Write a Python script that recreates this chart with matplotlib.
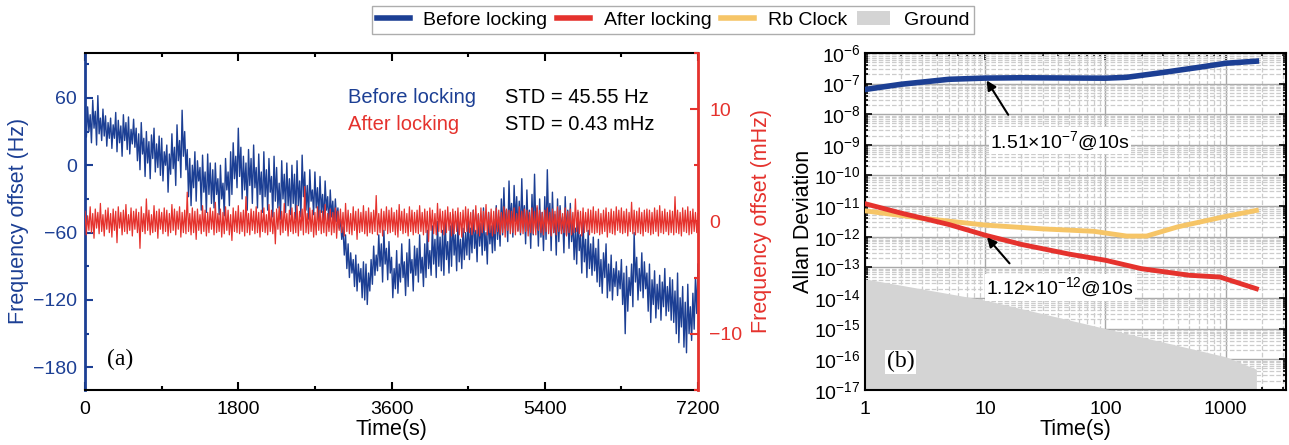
import numpy as np
import matplotlib.pyplot as plt
from matplotlib.ticker import MultipleLocator, LogLocator, NullFormatter
from matplotlib.patches import Patch
from matplotlib.lines import Line2D

plt.rcParams['font.family'] = ['Liberation Sans', 'DejaVu Sans']
plt.rcParams['font.size'] = 14
plt.rcParams['mathtext.fontset'] = 'custom'
plt.rcParams['mathtext.rm'] = 'Liberation Sans'

# ---- panel (a): frequency offset vs time, one sample every 15 s ----
dt = 15
blue_hz = [
    40, 25, 52, 30, 45, 20, 58, 33, 48, 18, 62, 28, 42, 22, 50, 26, 44, 17, 38, 24,
    42, 15, 36, 24, 47, 12, 40, 20, 35, 8, 45, 22, 38, 14, 43, 10, 32, 19, 41, 16,
    33, 4, 28, -4, 38, 10, 24, -10, 30, 2, 21, -12, 27, 6, 33, -6, 19, -2, 26, -9,
    24, -14, 12, 0, 18, -24, 10, -8, 28, -3, 16, -18, 36, 4, 22, -11, 49, 8, 30, -4,
    14, -28, 6, -36, 0, -20, 12, -32, 4, -14, -2, -40, 9, -24, -6, -42, 10, -26, 2, -34,
    -4, -38, 2, -26, -12, -44, 0, -30, -16, -45, 6, -22, -6, -36, 12, -26, 20, -12, 8, -20,
    33, -10, 16, -30, 8, -22, 2, -40, 14, -18, 6, -34, 18, -20, -2, -38, 10, -26, -6, -42,
    12, -28, -4, -40, 6, -24, -10, -46, 8, -32, -2, -38, -16, -48, 4, -30, -8, -42, 2, -36,
    -12, -44, 0, -34, -8, -48, 4, -36, -14, -46, 9, -28, -6, -40, -18, -48, -4, -32, -22, -44,
    -6, -38, -20, -48, -10, -42, -26, -52, -14, -40, -28, -55, -22, -46, -32, -54, -30, -50, -38, -56,
    -48, -66, -55, -80, -62, -92, -70, -100, -78, -96, -84, -108, -80, -112, -88, -104, -92, -118, -86, -120,
    -88, -124, -96, -112, -84, -106, -72, -98, -80, -94, -62, -90, -70, -104, -58, -88, -74, -102, -68, -96,
    -82, -118, -92, -110, -76, -114, -88, -104, -70, -100, -86, -116, -78, -108, -66, -96, -84, -112, -72, -98,
    -74, -104, -62, -96, -82, -108, -70, -100, -58, -92, -76, -98, -54, -88, -66, -100, -50, -90, -64, -94,
    -58, -98, -48, -84, -68, -96, -54, -90, -44, -80, -62, -94, -50, -86, -66, -92, -56, -84, -60, -80,
    -46, -84, -56, -78, -40, -74, -58, -86, -44, -72, -52, -80, -38, -76, -60, -88, -42, -70, -54, -78,
    -48, -76, -36, -66, -46, -72, -30, -62, -20, -56, -40, -68, -14, -52, -34, -64, -18, -50, -28, -58,
    -32, -62, -12, -54, -36, -70, -22, -58, -40, -74, -26, -62, -8, -56, -38, -72, -30, -64, -42, -76,
    -28, -66, -4, -52, -34, -76, -24, -60, -44, -80, -30, -68, -36, -58, -46, -78, -28, -62, -40, -74,
    -34, -68, -48, -84, -56, -88, -42, -76, -62, -96, -50, -86, -66, -100, -58, -92, -70, -98, -64, -94,
    -74, -104, -66, -108, -84, -114, -78, -100, -70, -118, -88, -112, -80, -120, -92, -108, -86, -116, -94, -110,
    -84, -124, -96, -150, -90, -130, -100, -116, -88, -126, -60, -104, -82, -120, -92, -112, -78, -118, -86, -110,
    -96, -130, -88, -140, -102, -124, -94, -136, -106, -128, -98, -138, -104, -126, -92, -134, -108, -130, -100, -138,
    -102, -140, -112, -150, -96, -158, -118, -144, -108, -162, -122, -167, -106, -150, -126, -156, -114, -146, -100, -132,
    -88,
]
red_mhz = [
    0.9, -1.2, 0.5, -0.8, 1.3, -1.0, 0.7, -1.5, 1.1, -0.6, 0.8, -1.1, 1.6, -0.9, 0.6, -1.3, 1.0, -0.7, 1.2, -1.0,
    0.7, -1.4, 1.1, -0.8, 0.9, -1.9, 1.3, -0.6, 0.8, -1.2, 1.0, -0.9, 1.5, -1.1, 0.6, -0.8, 1.2, -1.3, 0.9, -0.7,
    1.1, -1.0, 0.8, -2.4, 1.3, -0.9, 0.7, -1.1, 2.0, -0.8, 1.0, -1.2, 0.6, -1.0, 1.4, -0.9, 0.9, -1.5, 1.1, -0.7,
    0.8, -1.1, 1.2, -0.9, 1.0, -1.3, 0.7, -1.0, 1.5, -0.8, 1.1, -1.2, 0.9, -0.7, 1.3, -1.4, 0.8, -1.0, 1.0, -1.1,
    2.6, -0.9, 0.7, -1.2, 1.2, -1.0, 0.9, -1.6, 1.1, -0.8, 0.6, -1.1, 1.4, -0.9, 1.0, -1.3, 0.8, -1.0, 1.2, -0.7,
    0.9, -1.2, 1.7, -1.0, 0.7, -0.9, 1.1, -1.4, 0.8, -1.1, 1.3, -0.8, 1.0, -1.2, 0.6, -1.7, 1.2, -0.9, 0.9, -1.0,
    1.4, -1.1, 0.8, -0.9, 1.0, -1.3, 2.2, -1.0, 0.7, -1.2, 1.1, -0.8, 0.9, -1.1, 1.3, -1.0, 0.8, -1.4, 1.0, -0.9,
    1.2, -1.0, 0.6, -1.2, 1.5, -0.9, 1.0, -1.1, 0.8, -2.0, 1.1, -0.7, 1.3, -1.2, 0.9, -1.0, 1.6, -0.8, 0.7, -1.3,
    1.0, -0.9, 1.2, -1.1, 0.8, -1.0, 1.4, -1.3, 0.9, -0.8, 1.1, -1.2, 3.1, -1.0, 0.7, -1.1, 1.2, -0.9, 1.0, -1.4,
    0.8, -1.2, 1.3, -0.8, 1.0, -1.1, 0.9, -1.0, 1.5, -1.3, 0.7, -0.9, 1.1, -1.2, 0.8, -1.0, 1.2, -1.5, 0.9, -0.8,
    1.1, -1.0, 0.8, -1.3, 1.6, -0.9, 1.0, -1.1, 0.7, -1.2, 1.3, -0.8, 0.9, -1.6, 1.1, -1.0, 0.8, -0.9, 1.4, -1.1,
    0.9, -1.3, 1.2, -1.0, 0.8, -1.1, 1.0, -0.9, 2.3, -1.2, 0.7, -1.0, 1.1, -1.3, 0.9, -0.8, 1.3, -1.1, 1.0, -1.0,
    1.2, -0.9, 0.8, -1.2, 1.0, -1.4, 1.5, -0.8, 0.9, -1.1, 1.1, -1.0, 0.7, -1.3, 1.3, -0.9, 1.0, -1.2, 0.8, -1.0,
    1.0, -1.1, 1.4, -0.9, 0.8, -1.2, 1.1, -1.0, 0.9, -1.8, 1.2, -0.8, 1.0, -1.1, 0.7, -1.2, 1.6, -0.9, 1.1, -1.0,
    0.9, -1.2, 1.0, -1.0, 1.3, -0.8, 0.8, -1.3, 1.1, -1.1, 0.9, -0.9, 1.2, -1.2, 0.8, -1.4, 1.0, -1.0, 1.3, -0.9,
    1.1, -1.0, 0.8, -1.2, 1.0, -0.9, 1.4, -1.1, 0.7, -1.3, 1.2, -1.0, 0.9, -0.8, 1.5, -1.2, 0.8, -1.0, 1.1, -1.3,
    0.9, -1.1, 1.2, -0.9, 1.0, -1.2, 0.8, -1.0, 1.3, -1.4, 1.1, -0.8, 1.0, -1.1, 0.9, -1.0, 1.2, -1.2, 0.7, -0.9,
    1.3, -1.0, 0.9, -1.1, 1.1, -0.9, 1.0, -1.3, 0.8, -1.0, 1.2, -1.1, 0.9, -1.2, 1.4, -0.8, 1.0, -1.0, 0.8, -1.2,
    1.0, -0.9, 1.2, -1.1, 0.8, -1.3, 1.1, -1.0, 0.9, -1.2, 1.3, -0.9, 1.0, -1.1, 0.7, -1.0, 1.2, -1.3, 0.9, -1.0,
    1.1, -1.2, 0.8, -1.0, 2.0, -0.9, 1.0, -1.1, 0.9, -1.3, 1.2, -1.0, 0.8, -0.9, 1.1, -1.2, 1.0, -1.0, 1.3, -1.1,
    0.9, -1.0, 1.1, -1.2, 0.7, -1.1, 1.0, -0.9, 1.2, -1.4, 0.8, -1.0, 1.1, -1.1, 0.9, -1.2, 1.3, -0.8, 1.0, -1.0,
    1.2, -1.1, 0.9, -1.0, 1.1, -1.3, 0.8, -0.9, 1.7, -1.1, 1.0, -1.2, 0.9, -1.0, 1.2, -1.1, 0.8, -1.3, 1.0, -0.9,
    1.1, -1.0, 1.0, -1.2, 0.8, -1.1, 1.2, -0.9, 1.0, -1.3, 1.4, -1.0, 0.9, -1.1, 1.1, -0.9, 0.8, -1.2, 1.0, -1.0,
    0.9, -1.2, 2.2, -1.0, 1.0, -1.1, 0.8, -1.3, 1.2, -0.9, 1.0, -1.0, 1.3, -1.2, 0.9, -1.1, 1.1, -0.9, 0.8, -1.0,
    0.7,
]
t_blue = np.arange(len(blue_hz)) * dt
t_red = np.arange(len(red_mhz)) * dt

# ---- panel (b): Allan deviation ----
tau_before = [1, 2, 5, 10, 20, 50, 100, 150, 300, 600, 1000, 1800]
adev_before = [6.4e-8, 9.5e-8, 1.38e-7, 1.51e-7, 1.55e-7, 1.52e-7, 1.5e-7,
               1.6e-7, 2.3e-7, 3.4e-7, 4.6e-7, 5.4e-7]
tau_after = [1, 2, 5, 10, 20, 50, 100, 200, 500, 900, 1800]
adev_after = [1.2e-11, 5.9e-12, 2.5e-12, 1.12e-12, 5.6e-13, 2.7e-13, 1.7e-13,
              9e-14, 5.5e-14, 4.8e-14, 2.0e-14]
tau_rb = [1, 3, 10, 30, 80, 150, 220, 400, 1000, 1800]
adev_rb = [7e-12, 4e-12, 2.4e-12, 1.8e-12, 1.5e-12, 1.05e-12, 1.05e-12,
           2.1e-12, 4.6e-12, 7.2e-12]
tau_ground = [1, 10, 100, 1000, 1800]
adev_ground = [4.2e-14, 8.5e-15, 1.0e-15, 1.2e-16, 4.7e-17]

c_blue = '#1c3f94'
c_red = '#e5322d'
c_rb = '#f6c567'
c_gnd = '#d4d4d4'
lab_fs = 15.5
txt_fs = 14.5

fig = plt.figure(figsize=(12.89, 4.45), dpi=100)

# ---------- (a) ----------
ax1 = fig.add_axes([0.066, 0.124, 0.4755, 0.757])
ax1.plot(t_blue, blue_hz, color=c_blue, lw=1.0)
ax1.set_xlim(0, 7200)
ax1.set_ylim(-200, 100)
ax1.xaxis.set_major_locator(MultipleLocator(1800))
ax1.xaxis.set_minor_locator(MultipleLocator(900))
ax1.yaxis.set_major_locator(MultipleLocator(60))
ax1.yaxis.set_minor_locator(MultipleLocator(30))
ax1.set_xlabel('Time(s)', fontsize=lab_fs, labelpad=1)
ax1.set_ylabel('Frequency offset (Hz)', color=c_blue, fontsize=lab_fs, labelpad=3)
ax1.tick_params(axis='y', colors=c_blue, direction='in', length=6, width=1.5, pad=6)
ax1.tick_params(axis='y', which='minor', colors=c_blue, direction='in', length=3, width=1.5)
ax1.tick_params(axis='x', which='both', direction='in', top=True, width=1.5)
ax1.tick_params(axis='x', which='major', length=6, pad=8)
ax1.tick_params(axis='x', which='minor', length=3)
for s in ['top', 'bottom']:
    ax1.spines[s].set_linewidth(1.5)
ax1.spines['left'].set_color(c_blue)
ax1.spines['left'].set_linewidth(2)

ax2 = ax1.twinx()
ax2.plot(t_red, red_mhz, color=c_red, lw=0.9)
ax2.set_ylim(-15, 15)
ax2.yaxis.set_major_locator(MultipleLocator(10))
ax2.yaxis.set_minor_locator(MultipleLocator(5))
ax2.set_ylabel('Frequency offset (mHz)', color=c_red, fontsize=lab_fs, labelpad=6)
ax2.tick_params(axis='y', which='both', colors=c_red, direction='in', width=1.5)
ax2.tick_params(axis='y', which='major', length=6, pad=8)
ax2.tick_params(axis='y', which='minor', length=3)
ax2.spines['right'].set_color(c_red)
ax2.spines['right'].set_linewidth(2)
ax2.spines['left'].set_visible(False)
ax2.spines['top'].set_visible(False)
ax2.spines['bottom'].set_visible(False)

ax1.text(0.429, 0.869, 'Before locking', color=c_blue, fontsize=txt_fs,
         transform=ax1.transAxes, va='center')
ax1.text(0.429, 0.789, 'After locking', color=c_red, fontsize=txt_fs,
         transform=ax1.transAxes, va='center')
ax1.text(0.685, 0.869, 'STD = 45.55 Hz', color='k', fontsize=txt_fs,
         transform=ax1.transAxes, va='center')
ax1.text(0.685, 0.789, 'STD = 0.43 mHz', color='k', fontsize=txt_fs,
         transform=ax1.transAxes, va='center')
ax1.text(0.036, 0.089, '(a)', family='Liberation Serif', fontsize=17,
         transform=ax1.transAxes, va='center')

# ---------- (b) ----------
ax3 = fig.add_axes([0.671, 0.124, 0.327, 0.757])
ax3.set_xscale('log')
ax3.set_yscale('log')
ax3.fill_between(tau_ground, 1e-17, adev_ground, color=c_gnd, lw=0, zorder=1)
ax3.plot(tau_before, adev_before, color=c_blue, lw=4, zorder=3)
ax3.plot(tau_rb, adev_rb, color=c_rb, lw=3.5, zorder=3)
ax3.plot(tau_after, adev_after, color=c_red, lw=3.5, zorder=4)
ax3.set_xlim(1, 3200)
ax3.set_ylim(1e-17, 1e-6)
ax3.yaxis.set_major_locator(LogLocator(base=10, numticks=20))
ax3.yaxis.set_minor_locator(LogLocator(base=10, subs=np.arange(2, 10), numticks=200))
ax3.yaxis.set_minor_formatter(NullFormatter())
ax3.xaxis.set_minor_locator(LogLocator(base=10, subs=np.arange(2, 10), numticks=50))
ax3.xaxis.set_minor_formatter(NullFormatter())
ax3.set_xticks([1, 10, 100, 1000])
ax3.set_xticklabels(['1', '10', '100', '1000'])
ax3.grid(True, which='major', color='#a8a8a8', lw=1, ls='-', zorder=0)
ax3.grid(True, which='minor', color='#cccccc', lw=0.9, ls='--', zorder=0)
ax3.set_axisbelow(True)
ax3.tick_params(which='both', direction='in', top=True, right=True, width=1.2)
ax3.tick_params(which='major', length=5)
ax3.tick_params(which='minor', length=2.5)
ax3.tick_params(axis='x', pad=8)
ax3.tick_params(axis='y', pad=3, labelsize=14)
for s in ax3.spines.values():
    s.set_linewidth(1.5)
ax3.set_xlabel('Time(s)', fontsize=lab_fs, labelpad=1)
ax3.set_ylabel('Allan Deviation', fontsize=lab_fs, labelpad=0)

ax3.annotate('', xy=(10, 1.51e-7), xytext=(16, 8e-9),
             arrowprops=dict(arrowstyle='-|>', color='k', lw=1.5, mutation_scale=14), zorder=6)
ax3.annotate('', xy=(10, 1.12e-12), xytext=(16.5, 1.15e-13),
             arrowprops=dict(arrowstyle='-|>', color='k', lw=1.5, mutation_scale=14), zorder=6)
ax3.text(42, 1.35e-9, '1.51×10$^{-7}$@10s', ha='center', va='center', fontsize=14,
         bbox=dict(fc='white', ec='none', pad=1), zorder=7)
ax3.text(42, 2.2e-14, '1.12×10$^{-12}$@10s', ha='center', va='center', fontsize=14,
         bbox=dict(fc='white', ec='none', pad=1), zorder=7)
ax3.text(0.052, 0.083, '(b)', family='Liberation Serif', fontsize=17,
         transform=ax3.transAxes, va='center', zorder=7,
         bbox=dict(fc='white', ec='none', pad=1))

handles = [Line2D([], [], color=c_blue, lw=4),
           Line2D([], [], color=c_red, lw=4),
           Line2D([], [], color=c_rb, lw=4),
           Patch(facecolor=c_gnd, edgecolor='none')]
fig.legend(handles, ['Before locking', 'After locking', 'Rb Clock', 'Ground'],
           loc='center', bbox_to_anchor=(0.522, 0.955), ncol=4, frameon=True,
           fancybox=False, edgecolor='#999999', fontsize=14, handlelength=1.7,
           columnspacing=0.5, borderpad=0.25, handletextpad=0.7)

fig.savefig('out.png', dpi=100)
